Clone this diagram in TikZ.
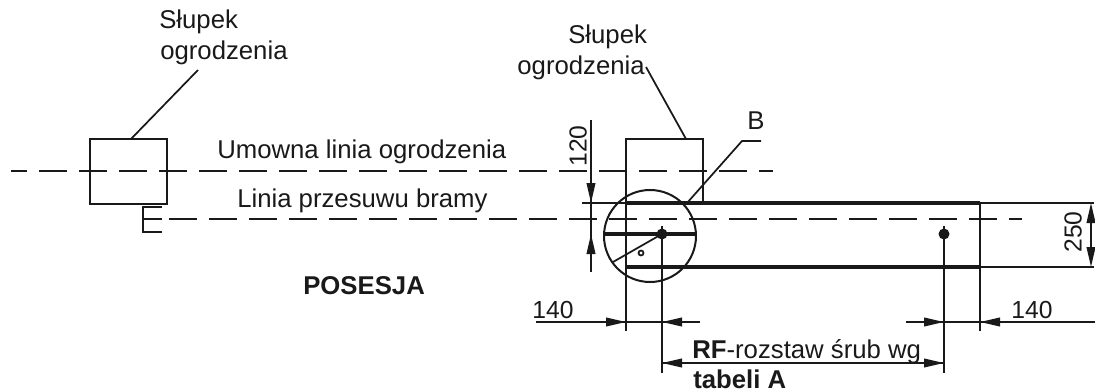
\documentclass[tikz,border=0pt]{standalone}
\usepackage{fontspec}
\setmainfont{Liberation Sans}
\usetikzlibrary{arrows.meta}

\tikzset{
  label/.style={inner sep=0pt,text=black!90,font=\fontsize{19.3}{23}\selectfont},
  boldlabel/.style={label,font=\fontsize{19.3}{23}\selectfont\bfseries},
  dimlabel/.style={label,font=\fontsize{18.5}{22}\selectfont},
  thin line/.style={line width=1.3pt,draw=black!90},
  post line/.style={line width=1.9pt,draw=black!90},
  thick line/.style={line width=2.6pt,draw=black!90},
  axis line/.style={line width=1.5pt,draw=black!90,dash pattern=on 21pt off 9pt,dash phase=9pt},
  dim/.style={line width=1.3pt,draw=black!90},
  tip/.style={-{Triangle[length=15pt,width=6.5pt]}}
}

\begin{document}
\begin{tikzpicture}[x=0.75pt,y=-0.75pt]
\useasboundingbox (0,0) rectangle (1095,392);

% Left post
\draw[post line] (90,139) rectangle (167,204);
\draw[thin line] (131,139) -- (198,70);
\draw[thin line] (162,207) -- (143,207) -- (143,232) -- (162,232);
\draw[thin line] (143,219) -- (162,219);

% Right post
\draw[post line] (626,139) rectangle (703,203);
\draw[thin line] (686,139) -- (646,67);

% Gate
\draw[thick line] (626,203) -- (980,203);
\draw[thick line] (626,267) -- (980,267);
\draw[post line] (626,139) -- (626,331);
\draw[post line] (980,203) -- (980,331);
\draw[post line] (582,203) -- (626,203);
\draw[post line] (980,203) -- (1094,203);
\draw[post line] (980,267) -- (1094,267);

% Axis lines
\draw[axis line] (11,171) -- (773,171);
\draw[axis line,dash phase=0pt] (169,219) -- (1022,219);

% Detail B
\draw[post line,line width=1.5pt] (650,236) circle (46);
\draw[thick line] (604,234) -- (695,234);
\draw[thin line] (662,234) -- (613,262);
\draw[thin line] (641,253) circle (2.5);
\draw[thin line] (687,203) -- (742,141) -- (761,141);

% Bolts
\fill[black!90] (662,234) circle (5.5);
\fill[black!90] (944,234) circle (5.5);
\draw[post line] (662,226) -- (662,373);
\draw[post line] (944,226) -- (944,373);

% Dimensions
\draw[dim] (591,120) -- (591,272);
\draw[dim,tip] (591,180) -- (591,203);
\draw[dim,tip] (591,256) -- (591,234);
\draw[dim,tip] (1091,235) -- (1091,203);
\draw[dim,tip] (1091,235) -- (1091,267);
\draw[dim] (536,322) -- (700,322);
\draw[dim,tip] (600,322) -- (626,322);
\draw[dim,tip] (688,322) -- (662,322);
\draw[dim] (906,322) -- (1095,322);
\draw[dim,tip] (920,322) -- (944,322);
\draw[dim,tip] (1005,322) -- (980,322);
\draw[dim,tip] (944,363) -- (662,363);
\draw[dim,tip] (662,363) -- (944,363);

% Labels
\node[label,anchor=base west] (postleft) at (159,29) {Słupek};
\node[label,anchor=base west] (postleftb) at (160,60) {ogrodzenia};
\node[label,anchor=base west] (postright) at (568,44) {Słupek};
\node[label,anchor=base east] (postrightb) at (645,75) {ogrodzenia};
\node[label,anchor=base west] (fenceline) at (217,159) {Umowna linia ogrodzenia};
\node[label,anchor=base west] (gateline) at (237,207) {Linia przesuwu bramy};
\node[boldlabel,anchor=base west] (property) at (303,294) {POSESJA};
\node[label] (detail) at (756,121) {B};
\node[dimlabel,rotate=90] (dimh) at (578,146) {120};
\node[dimlabel,rotate=90] (dimw) at (1073,232) {250};
\node[dimlabel,anchor=base] (dimleft) at (553,318) {140};
\node[dimlabel,anchor=base] (dimright) at (1032,318) {140};
\node[label,anchor=base west] (spacing) at (692,358) {\textbf{RF}-rozstaw śrub wg};
\node[boldlabel,anchor=base west] (table) at (693,388) {tabeli A};
\end{tikzpicture}
\end{document}
